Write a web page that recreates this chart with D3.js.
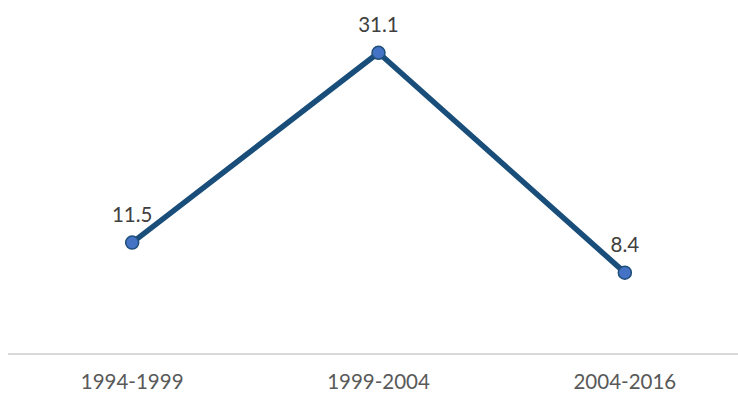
<!DOCTYPE html>
<html>
<head>
<meta charset="utf-8">
<script src="https://cdn.jsdelivr.net/npm/d3@7"></script>
<style>
  body { margin: 0; background: #fff; }
  text { font-family: Lato, "Open Sans", sans-serif; }
</style>
</head>
<body>
<svg id="chart" width="738" height="394"></svg>
<script>
var periods = ["1994-1999", "1999-2004", "2004-2016"];
var values = [11.5, 31.1, 8.4];

var data = periods.map(function(p, i) { return {period: p, value: values[i]}; });

var svg = d3.select("#chart");

var x = d3.scaleBand().domain(periods).range([9, 748]);
var y = d3.scaleLinear().domain([0, 35]).range([354, 15]);

// baseline axis
var xAxis = d3.axisBottom(x).tickSize(0).tickPadding(20);
var gx = svg.append("g")
    .attr("transform", "translate(0," + y(0) + ")")
    .call(xAxis);
gx.select(".domain").attr("stroke", "#d9d9d9").attr("stroke-width", 2)
    .attr("d", "M8,0H738");
gx.selectAll("text")
    .attr("fill", "#595959")
    .style("font-size", "20.5px");

var cx = function(d) { return x(d.period) + x.bandwidth() / 2; };

var line = d3.line()
    .x(cx)
    .y(function(d) { return y(d.value); });

svg.append("path")
    .datum(data)
    .attr("fill", "none")
    .attr("stroke", "#1a4e7a")
    .attr("stroke-width", 5.5)
    .attr("stroke-linejoin", "round")
    .attr("d", line);

svg.selectAll(".dot")
    .data(data)
    .enter().append("circle")
    .attr("class", "dot")
    .attr("cx", cx)
    .attr("cy", function(d) { return y(d.value); })
    .attr("r", 6.5)
    .attr("fill", "#4472c4")
    .attr("stroke", "#1f4e79")
    .attr("stroke-width", 1.5);

svg.selectAll(".lbl")
    .data(data)
    .enter().append("text")
    .attr("class", "lbl")
    .attr("x", cx)
    .attr("y", function(d) { return y(d.value) - 21; })
    .attr("text-anchor", "middle")
    .attr("fill", "#404040")
    .style("font-size", "20.5px")
    .text(function(d) { return d.value.toFixed(1); });
</script>
</body>
</html>
